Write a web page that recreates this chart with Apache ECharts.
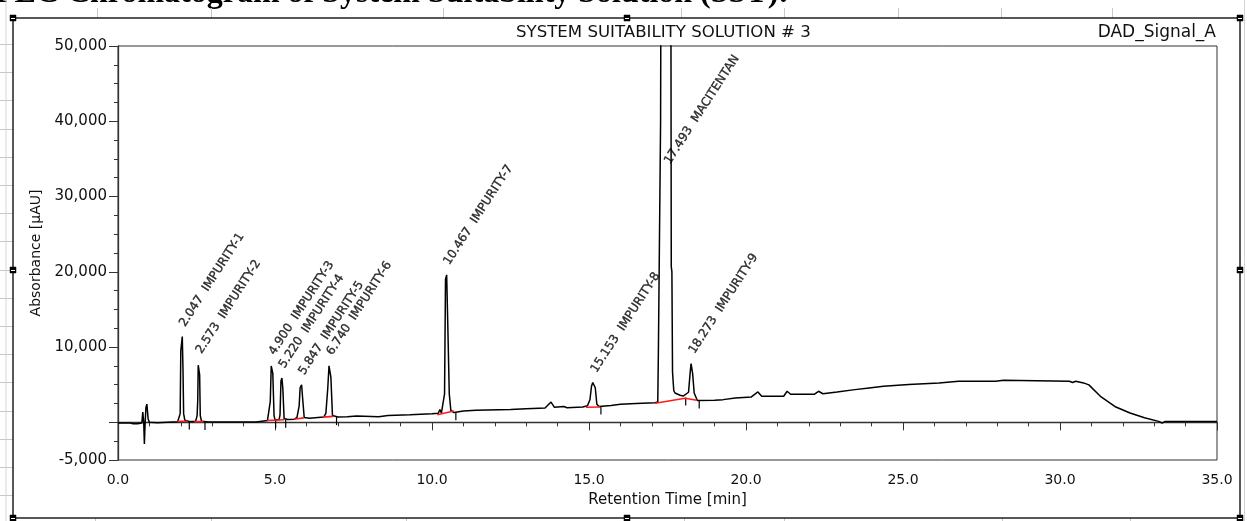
<!DOCTYPE html>
<html>
<head>
<meta charset="utf-8">
<script src="https://cdn.jsdelivr.net/npm/echarts@6/dist/echarts.min.js"></script>
<style>
  html, body { margin: 0; padding: 0; background: #fff; }
  #chart { width: 1247px; height: 521px; }
</style>
</head>
<body>
<div id="chart"></div>
<script>
// Chromatogram trace: retention time (min) and absorbance (µAU)
const times = [
  0.00, 0.40, 0.48, 0.52, 0.62, 0.66, 0.76, 0.79, 0.82, 0.84, 0.86, 0.89, 0.92, 0.96, 1.00,
  1.25, 1.30, 1.90, 1.95, 1.98, 2.00, 2.047, 2.07, 2.09, 2.13, 2.30,
  2.47, 2.52, 2.54, 2.555, 2.573, 2.60, 2.62, 2.66, 2.90, 4.40, 4.45, 4.76,
  4.80, 4.85, 4.88, 4.90, 4.93, 4.97, 5.00, 5.13, 5.16, 5.19, 5.22, 5.25, 5.29, 5.40,
  5.62, 5.70, 5.77, 5.80, 5.847, 5.88, 5.93, 6.10,
  6.55, 6.62, 6.68, 6.72, 6.74, 6.78, 6.83, 7.00, 7.30, 7.35, 7.60, 8.30, 8.60, 9.30, 10.00,
  10.20, 10.25, 10.30, 10.40, 10.43, 10.467, 10.50, 10.55, 10.60, 10.70,
  11.00, 11.40, 12.50, 13.00, 13.60, 13.79, 13.90, 14.20, 14.30, 14.80,
  14.95, 15.03, 15.08, 15.12, 15.153, 15.20, 15.25, 15.32, 15.70, 16.00, 16.50, 17.10,
  17.19, 17.21, 17.26, 17.28, 17.493, 17.62, 17.64, 17.66, 17.70, 17.74, 17.90, 18.00,
  18.17, 18.22, 18.25, 18.273, 18.30, 18.35, 18.45,
  19.00, 19.27, 19.66, 20.17, 20.38, 20.50, 21.20, 21.31, 21.42, 22.17, 22.31, 22.45, 22.90,
  23.47, 23.92, 24.38, 25.18, 26.15, 26.77, 27.95, 28.00, 28.20, 28.25, 30.30, 30.40, 30.50,
  30.75, 30.92, 31.31, 31.78, 32.23, 32.69, 33.14, 33.25, 33.35, 35.00
];
const absorbance = [
  -80, -80, -200, -60, -180, -80, -80, 1360, -80, -2870, -450, 1990, 2420, 440, 0,
  -60, 60, 90, 250, 1160, 9500, 11400, 7000, 1160, 270, 100,
  120, 900, 3000, 7600, 7800, 6300, 900, 150, 60, 60, 250, 260,
  500, 2800, 7500, 7650, 6500, 900, 350, 350, 1000, 5500, 5900, 4500, 500, 380,
  420, 650, 2200, 4600, 5000, 3200, 650, 550,
  700, 1200, 4500, 7500, 7600, 6000, 900, 700, 750, 950, 850, 750, 900, 1000, 1150,
  1200, 1700, 1250, 3800, 19000, 19600, 13500, 3800, 1600, 1300,
  1500, 1600, 1700, 1820, 1900, 2700, 2000, 2100, 1950, 2050,
  2200, 3000, 4800, 5300, 5200, 4600, 2400, 2100, 2250, 2400, 2500, 2600,
  2700, 9400, 9600, 40000, 420000, 20700, 20000, 6700, 4200, 3900, 3600, 3500,
  4000, 6500, 7800, 7700, 6500, 3900, 2900,
  2950, 3020, 3240, 3380, 4040, 3470, 3470, 4130, 3730, 3730, 4130, 3800, 4040,
  4350, 4580, 4800, 5020, 5240, 5470, 5470, 5600, 5600, 5470, 5470, 5300, 5470,
  5240, 4980, 3380, 2040, 1240, 620, 130, -90, 130, 130
];

// Integration baselines (null starts a new segment)
const baseTimes = [1.89, 2.21, null, 2.43, 2.72, null, 4.74, 5.30, null, 5.60, 5.92, null,
  6.52, 6.86, null, 10.17, 10.70, null, 14.90, 15.35, null, 17.11, 18.06, 18.43];
const baseValues = [150, 150, null, 100, 100, null, 250, 350, null, 420, 600, null,
  700, 800, null, 1000, 1500, null, 2000, 2050, null, 2540, 3200, 2930];

// Peak delimiter marks
const delimTimes = [2.27, 2.77, 5.02, 5.34, 6.96, 10.76, 15.38, 18.08, 18.51];
const delimValues = [100, 60, 300, 350, 700, 1350, 2100, 3300, 2900];

// Peak annotations
const peakTimes = [2.047, 2.573, 4.900, 5.220, 5.847, 6.740, 10.467, 15.153, 17.493, 18.273];
const peakLabelAt = [11400, 7800, 7650, 5900, 5000, 7600, 19600, 5300, 33000, 7800];
const peakNames = ['IMPURITY-1', 'IMPURITY-2', 'IMPURITY-3', 'IMPURITY-4', 'IMPURITY-5',
  'IMPURITY-6', 'IMPURITY-7', 'IMPURITY-8', 'MACITENTAN', 'IMPURITY-9'];

// Axis ticks
const yMajorTicks = [-5000, 0, 10000, 20000, 30000, 40000, 50000];
const yLabelTicks = [-5000, 10000, 20000, 30000, 40000, 50000];

const withCommas = v => String(v).replace(/\B(?=(\d{3})+(?!\d))/g, ',');

const trace = times.map((t, i) => [t, absorbance[i]]);
const baseLines = baseTimes.map((t, i) => t === null ? [null, null] : [t, baseValues[i]]);
const delims = delimTimes.map((t, i) => [t, delimValues[i]]);
const peaks = peakTimes.map((t, i) => [t, peakLabelAt[i]]);

const FONT = 'DejaVu Sans';
const TXT = '#111';

// Decorations of the surrounding document frame
const deco = [];
// heading partly hidden above the frame
deco.push({
  type: 'text', x: -30, y: 10, silent: true,
  style: { text: 'HPLC Chromatogram of System Suitability Solution (SST):',
    font: 'bold 32px "Liberation Serif"', fill: '#000', verticalAlign: 'bottom' }
});
// ruler strip at the left
deco.push({ type: 'line', shape: { x1: 6, y1: 0, x2: 6, y2: 521 }, style: { stroke: '#d4d4d4', lineWidth: 1 } });
for (let y = 44; y < 521; y += 28.2) {
  deco.push({ type: 'line', shape: { x1: 0, y1: Math.round(y) + 0.5, x2: 13, y2: Math.round(y) + 0.5 },
    style: { stroke: '#c8c8c8', lineWidth: 1 } });
}
// table grid ticks above and below the frame
[97, 211, 443, 681, 784, 898, 1001, 1112].forEach(x => {
  deco.push({ type: 'line', shape: { x1: x + 0.5, y1: 8, x2: x + 0.5, y2: 18 }, style: { stroke: '#c8c8c8', lineWidth: 1 } });
});
[95, 211, 406, 684, 784, 1002, 1130].forEach(x => {
  deco.push({ type: 'line', shape: { x1: x + 0.5, y1: 518, x2: x + 0.5, y2: 521 }, style: { stroke: '#c8c8c8', lineWidth: 1 } });
});
deco.push({ type: 'line', shape: { x1: 1244.5, y1: 0, x2: 1244.5, y2: 521 }, style: { stroke: '#d4d4d4', lineWidth: 1 } });
// outer frame
deco.push({ type: 'rect', shape: { x: 13, y: 18, width: 1227, height: 500 },
  style: { fill: 'none', stroke: '#222', lineWidth: 1.5 } });
// selection handles
[[13, 18], [627, 18], [1240, 18], [13, 270], [1240, 270], [627, 518], [13, 518], [1240, 518]].forEach(p => {
  deco.push({ type: 'rect', shape: { x: p[0] - 3, y: p[1] - 3, width: 6, height: 6 },
    style: { fill: '#000', stroke: '#000', lineWidth: 0.5 } });
  deco.push({ type: 'line', shape: { x1: p[0] - 2, y1: p[1] + 0.5, x2: p[0] + 2, y2: p[1] + 0.5 },
    style: { stroke: '#fff', lineWidth: 1 } });
});
// chart captions
deco.push({ type: 'text', x: 516, y: 24, silent: true,
  style: { text: 'SYSTEM SUITABILITY SOLUTION # 3', font: '16.6px "DejaVu Sans"', fill: TXT } });
deco.push({ type: 'text', x: 1216, y: 24, silent: true,
  style: { text: 'DAD_Signal_A', font: '17px "DejaVu Sans"', fill: TXT, align: 'right' } });

const chart = echarts.init(document.getElementById('chart'), null, { renderer: 'canvas' });
chart.setOption({
  animation: false,
  backgroundColor: '#fff',
  textStyle: { fontFamily: FONT },
  grid: { left: 118, right: 30, top: 46, bottom: 61, show: true, borderColor: '#333', borderWidth: 1 },
  graphic: deco,
  xAxis: {
    type: 'value', min: 0, max: 35, interval: 5,
    name: 'Retention Time [min]', nameLocation: 'middle', nameGap: 33,
    nameTextStyle: { fontFamily: FONT, fontSize: 15, color: TXT },
    axisLine: { lineStyle: { color: '#333', width: 1.3 } },
    axisTick: { length: 8, lineStyle: { color: '#333' } },
    minorTick: { show: true, splitNumber: 5, length: 4, lineStyle: { color: '#333' } },
    axisLabel: { margin: 13, fontFamily: FONT, fontSize: 14, color: TXT, formatter: v => v.toFixed(1) },
    splitLine: { show: false }
  },
  yAxis: [
    {
      type: 'value', min: -5000, max: 50000, interval: 2500,
      axisLine: { show: true, lineStyle: { color: '#333', width: 1.3 } },
      axisTick: { length: 4, lineStyle: { color: '#333' } },
      axisLabel: { show: false },
      splitLine: { show: false }
    },
    {
      type: 'value', min: -5000, max: 50000, interval: 5000, position: 'left',
      name: 'Absorbance [µAU]', nameLocation: 'middle', nameGap: 74,
      nameTextStyle: { fontFamily: FONT, fontSize: 14, color: TXT },
      axisLine: { show: false },
      axisTick: { show: true, length: 9, customValues: yMajorTicks, lineStyle: { color: '#333' } },
      axisLabel: { margin: 11, fontFamily: FONT, fontSize: 15, color: TXT,
        customValues: yLabelTicks, formatter: v => withCommas(v) },
      splitLine: { show: false }
    }
  ],
  series: [
    {
      type: 'line', data: trace, showSymbol: false, symbol: 'none', z: 3,
      lineStyle: { color: '#000', width: 1.5 }, clip: true
    },
    {
      type: 'line', data: baseLines, showSymbol: false, symbol: 'none', z: 4,
      connectNulls: false, lineStyle: { color: '#ff1a1a', width: 1.6 }
    },
    {
      type: 'custom', data: delims, z: 3,
      renderItem: (params, api) => {
        const p = api.coord([api.value(0), api.value(1)]);
        return { type: 'line', shape: { x1: p[0], y1: p[1], x2: p[0], y2: p[1] + 8 },
          style: { stroke: '#000', lineWidth: 1.2 } };
      }
    },
    {
      type: 'scatter', data: peaks, symbolSize: 0, z: 5,
      label: {
        show: true, position: 'top', distance: 11, rotate: 57,
        align: 'left', verticalAlign: 'middle',
        fontFamily: FONT, fontSize: 12, color: '#000',
        textBorderColor: '#000', textBorderWidth: 0.35,
        formatter: p => peakTimes[p.dataIndex].toFixed(3) + '  ' + peakNames[p.dataIndex]
      }
    }
  ]
});
</script>
</body>
</html>
